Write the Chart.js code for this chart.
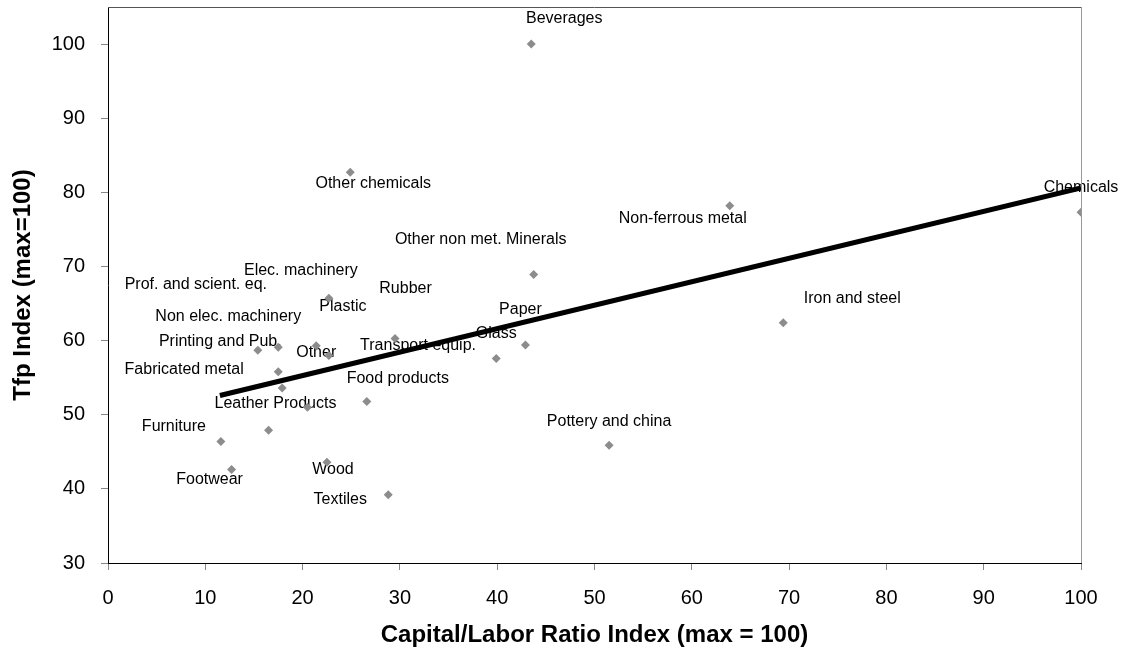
<!DOCTYPE html>
<html lang="en">
<head>
  <meta charset="UTF-8">
  <title>Tfp vs Capital/Labor</title>
  <script src="https://cdn.jsdelivr.net/npm/chart.js"></script>
  <style>
    body {
      margin: 0;
      background: #fff;
    }
    #wrap {
      width: 1133px;
      height: 654px;
    }
  </style>
</head>
<body>
  <div id="wrap"><canvas id="chart"></canvas></div>

  <script>
    const industries = [
      'Beverages', 'Other chemicals', 'Non-ferrous metal', 'Chemicals',
      'Other non met. Minerals', 'Iron and steel', 'Pottery and china', 'Paper',
      'Glass', 'Food products', 'Transport equip.', 'Plastic',
      'Other', 'Elec. machinery', 'Prof. and scient. eq.', 'Non elec. machinery',
      'Printing and Pub.', 'Fabricated metal', 'Leather Products', 'Rubber',
      'Furniture', 'Footwear', 'Wood', 'Textiles'
    ];
    const capitalLabor = [
      43.5, 24.9, 63.9, 100,
      43.75, 69.4, 51.5, 42.9,
      39.9, 26.6, 29.5, 22.7,
      21.4, 22.7, 15.4, 17.5,
      17.5, 17.9, 20.5, 16.5,
      11.6, 12.7, 22.5, 28.8
    ];
    const tfpIndex = [
      100.0, 82.7, 78.2, 77.3,
      68.9, 62.4, 45.9, 59.4,
      57.6, 51.8, 60.3, 65.7,
      59.3, 58.0, 58.7, 59.1,
      55.8, 53.6, 51.0, 47.9,
      46.4, 42.6, 43.6, 39.2
    ];
    // linear trend line end points as drawn
    const trendX = [11.5, 100];
    const trendY = [52.6, 80.6];
    const xTicks = [0, 10, 20, 30, 40, 50, 60, 70, 80, 90, 100];
    const yTicks = [30, 40, 50, 60, 70, 80, 90, 100];

    // where each label sits relative to its marker (px)
    const labelShift = [
      [33, -25], [23, 11], [-47, 13], [0, -25],
      [-53, -35], [69, -24], [0, -24], [-5, -35],
      [0, -25], [31, -23], [23, 7], [14, 8],
      [0, 7], [-28, -85], [-62, -66], [-50, -31],
      [-58, -30], [-98, -18], [-32, -4], [137, -142],
      [-47, -15], [-22, 10], [6, 7], [-48, 5]
    ];

    Chart.defaults.font.family = '"Liberation Sans", Arial, sans-serif';
    Chart.defaults.color = '#000';

    const pointLabels = {
      id: 'pointLabels',
      beforeDatasetsDraw(chart) {
        const meta = chart.getDatasetMeta(1);
        const ctx = chart.ctx;
        ctx.save();
        ctx.font = '16px "Liberation Sans", Arial, sans-serif';
        ctx.fillStyle = '#000';
        ctx.textAlign = 'center';
        ctx.textBaseline = 'middle';
        meta.data.forEach((pt, i) => {
          ctx.fillText(industries[i], pt.x + labelShift[i][0], pt.y + labelShift[i][1]);
        });
        ctx.restore();
      },
      afterDraw(chart) {
        const a = chart.chartArea;
        const ctx = chart.ctx;
        ctx.save();
        ctx.lineWidth = 1;
        ctx.strokeStyle = '#555';
        ctx.beginPath();
        ctx.moveTo(a.left, a.top + 0.5);
        ctx.lineTo(a.right, a.top + 0.5);
        ctx.stroke();
        ctx.strokeStyle = '#999';
        ctx.beginPath();
        ctx.moveTo(a.right + 0.5, a.top);
        ctx.lineTo(a.right + 0.5, a.bottom);
        ctx.stroke();
        ctx.restore();
      }
    };

    new Chart(document.getElementById('chart'), {
      type: 'scatter',
      data: {
        datasets: [
          {
            type: 'line',
            label: 'Trend',
            data: trendX.map((x, i) => ({ x: x, y: trendY[i] })),
            borderColor: '#000',
            borderWidth: 5,
            pointRadius: 0,
            fill: false,
            order: 1
          },
          {
            label: 'Industries',
            data: capitalLabor.map((x, i) => ({ x: x, y: tfpIndex[i] })),
            pointStyle: 'rectRot',
            pointRadius: 4.5,
            backgroundColor: '#8c8c8c',
            borderColor: '#8c8c8c',
            borderWidth: 0,
            order: 2
          }
        ]
      },
      options: {
        responsive: true,
        maintainAspectRatio: false,
        animation: false,
        layout: { padding: { top: 7, right: 52, left: 0, bottom: 0 } },
        plugins: {
          legend: { display: false },
          tooltip: { enabled: false }
        },
        scales: {
          x: {
            min: 0,
            max: 100,
            afterBuildTicks: s => { s.ticks = xTicks.map(v => ({ value: v })); },
            afterFit: s => { s.height = 91; s.paddingLeft = 0; s.paddingRight = 0; },
            grid: { drawOnChartArea: false, tickLength: 7, color: '#888' },
            border: { color: '#000', width: 1 },
            ticks: { font: { size: 20 }, padding: 16, maxRotation: 0 },
            title: {
              display: true,
              text: 'Capital/Labor Ratio Index (max = 100)',
              font: { size: 24, weight: 'bold' },
              padding: { top: 0, bottom: 4 }
            }
          },
          y: {
            min: 30,
            max: 105,
            afterBuildTicks: s => { s.ticks = yTicks.map(v => ({ value: v })); },
            afterFit: s => { s.width = 108; s.paddingTop = 0; s.paddingBottom = 0; },
            grid: { drawOnChartArea: false, tickLength: 7, color: '#888' },
            border: { color: '#000', width: 1 },
            ticks: { font: { size: 20 }, padding: 16 },
            title: {
              display: true,
              text: 'Tfp Index (max=100)',
              font: { size: 24, weight: 'bold' },
              padding: { top: 9, bottom: 0 }
            }
          }
        }
      },
      plugins: [pointLabels]
    });
  </script>
</body>
</html>
